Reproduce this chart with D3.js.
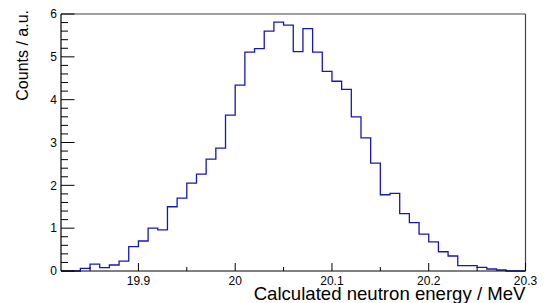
<!DOCTYPE html>
<html>
<head>
<meta charset="utf-8">
<script src="https://cdn.jsdelivr.net/npm/d3@7"></script>
<style>
  html, body { margin: 0; padding: 0; background: #fff; }
  svg { display: block; font-family: "Liberation Sans", Arial, Helvetica, sans-serif; }
</style>
</head>
<body>
<svg id="chart" width="546" height="303"></svg>
<script>
// Histogram bin lower edges (MeV), bin width 0.01
const binEdgesLow = [19.82,19.83,19.84,19.85,19.86,19.87,19.88,19.89,19.90,19.91,19.92,19.93,19.94,19.95,19.96,19.97,19.98,19.99,
  20.00,20.01,20.02,20.03,20.04,20.05,20.06,20.07,20.08,20.09,20.10,20.11,20.12,20.13,20.14,20.15,20.16,20.17,20.18,20.19,
  20.20,20.21,20.22,20.23,20.24,20.25,20.26,20.27,20.28,20.29];
const counts = [0,0,0.06,0.16,0.08,0.14,0.23,0.57,0.70,1.00,0.96,1.50,1.70,2.05,2.26,2.61,2.87,3.64,
  4.34,5.11,5.19,5.60,5.81,5.74,5.12,5.66,5.11,4.66,4.43,4.24,3.60,3.11,2.52,1.78,1.81,1.34,1.13,0.86,
  0.68,0.45,0.35,0.125,0.125,0.086,0.047,0.023,0,0];
const binWidth = 0.01;
const xDomain = [19.82, 20.3];
const yDomain = [0, 6];
const xMajorTicks = [19.9, 20.0, 20.1, 20.2, 20.3];
const xTickLabels = ["19.9", "20", "20.1", "20.2", "20.3"];
const yMajorTicks = [0, 1, 2, 3, 4, 5, 6];
const xTitle = "Calculated neutron energy / MeV";
const yTitle = "Counts / a.u.";

const svg = d3.select("#chart");
const L = 61, R = 525.5, T = 14, B = 271;
const x = d3.scaleLinear().domain(xDomain).range([L, R]);
const y = d3.scaleLinear().domain(yDomain).range([B, T]);

// frame (top & right)
svg.append("line").attr("x1", L).attr("x2", R).attr("y1", T).attr("y2", T)
  .attr("stroke", "#444").attr("stroke-width", 1.2);
svg.append("line").attr("x1", R).attr("x2", R).attr("y1", T).attr("y2", B)
  .attr("stroke", "#444").attr("stroke-width", 1.2);

// histogram step path
const pts = [];
pts.push([x(binEdgesLow[0]), y(0)]);
binEdgesLow.forEach((e, i) => {
  pts.push([x(e), y(counts[i])]);
  pts.push([x(e + binWidth), y(counts[i])]);
});
pts.push([x(binEdgesLow[binEdgesLow.length - 1] + binWidth), y(0)]);
svg.append("path")
  .attr("d", d3.line()(pts))
  .attr("fill", "none")
  .attr("stroke", "#1818b0")
  .attr("stroke-width", 1.3);

// Y axis
const yMinor = d3.range(0, 6.0001, 0.2);
svg.append("g").selectAll("line").data(yMinor).join("line")
  .attr("x1", L).attr("x2", d => Math.abs(d - Math.round(d)) < 1e-6 ? L + 13.5 : L + 7)
  .attr("y1", d => y(d)).attr("y2", d => y(d))
  .attr("stroke", "#000").attr("stroke-width", 1);
svg.append("line").attr("x1", L).attr("x2", L).attr("y1", T).attr("y2", B)
  .attr("stroke", "#000").attr("stroke-width", 1.2);
svg.append("g").selectAll("text").data(yMajorTicks).join("text")
  .attr("x", 57).attr("y", d => y(d) + 4.3)
  .attr("text-anchor", "end").attr("font-size", 12).attr("fill", "#000")
  .text(d => d);

// X axis
const xMinor = d3.range(19.85, 20.3001, 0.05);
svg.append("g").selectAll("line").data(xMinor).join("line")
  .attr("x1", d => x(d)).attr("x2", d => x(d))
  .attr("y1", B).attr("y2", d => {
    const k = Math.round(d * 100);
    return (k % 10 === 0) ? B - 8 : B - 4;
  })
  .attr("stroke", "#000").attr("stroke-width", 1);
svg.append("line").attr("x1", L).attr("x2", R).attr("y1", B).attr("y2", B)
  .attr("stroke", "#000").attr("stroke-width", 1.2);
svg.append("g").selectAll("text").data(xMajorTicks).join("text")
  .attr("x", d => x(d)).attr("y", 284.5)
  .attr("text-anchor", "middle").attr("font-size", 12).attr("fill", "#000")
  .text((d, i) => xTickLabels[i]);

// titles
svg.append("text").attr("x", R).attr("y", 299.5)
  .attr("text-anchor", "end").attr("font-size", 18.6).attr("fill", "#000")
  .text(xTitle);
svg.append("text").attr("transform", "translate(28,10) rotate(-90)")
  .attr("text-anchor", "end").attr("font-size", 16).attr("fill", "#000")
  .text(yTitle);
</script>
</body>
</html>
